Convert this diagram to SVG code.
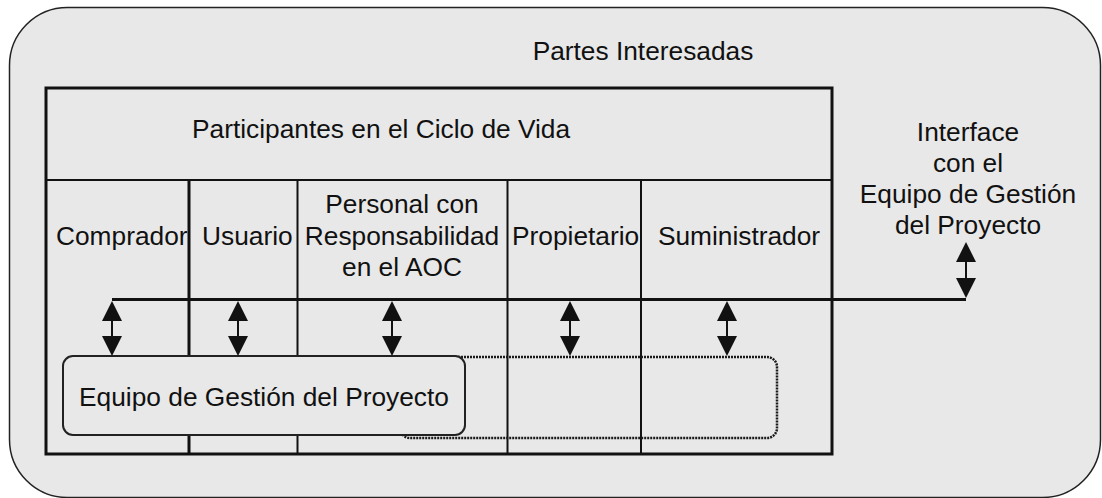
<svg xmlns="http://www.w3.org/2000/svg" width="1102" height="498" viewBox="0 0 1102 498">
  <style>
    .txt { font-family: "Liberation Sans", Arial, sans-serif; font-size: 26.3px; fill: #111; }
    .mid { text-anchor: middle; }
    .thick { stroke: #111; stroke-width: 3; fill: none; }
    .thin { stroke: #111; stroke-width: 2; fill: none; }
    .arrow { stroke: #111; stroke-width: 2; fill: none; marker-start: url(#head); marker-end: url(#head); }
  </style>
  <defs>
    <marker id="head" viewBox="0 0 20 20" refX="16" refY="10" markerWidth="20" markerHeight="20" markerUnits="userSpaceOnUse" orient="auto-start-reverse">
      <path d="M0,0 L20,10 L0,20 z" fill="#111"/>
    </marker>
  </defs>

  <rect width="1102" height="498" fill="#ffffff"/>

  <g id="partes-interesadas">
    <rect x="9.5" y="7.5" width="1091" height="490" rx="58" ry="58" fill="#e8e8e8" stroke="#222" stroke-width="1.5"/>
    <text class="txt mid" x="643" y="60">Partes Interesadas</text>
  </g>

  <g id="ciclo-de-vida">
    <rect x="46" y="88" width="786" height="366" class="thick"/>
    <line x1="46" y1="180" x2="832" y2="180" class="thin"/>
    <text class="txt" x="192" y="138">Participantes en el Ciclo de Vida</text>
  </g>

  <g id="columnas">
    <line x1="189" y1="180" x2="189" y2="454" class="thick"/>
    <line x1="297.5" y1="180" x2="297.5" y2="454" class="thin"/>
    <line x1="507.5" y1="180" x2="507.5" y2="454" class="thin"/>
    <line x1="641" y1="180" x2="641" y2="454" class="thin"/>
  </g>

  <g id="comprador"><text class="txt" x="56" y="245">Comprador</text></g>
  <g id="usuario"><text class="txt" x="202" y="245">Usuario</text></g>
  <g id="personal-aoc">
    <text class="txt mid" x="402" y="213">Personal con</text>
    <text class="txt mid" x="402" y="245">Responsabilidad</text>
    <text class="txt mid" x="402" y="276">en el AOC</text>
  </g>
  <g id="propietario"><text class="txt" x="512" y="245">Propietario</text></g>
  <g id="suministrador"><text class="txt mid" x="739" y="245">Suministrador</text></g>

  <g id="interface">
    <text class="txt mid" x="968" y="141">Interface</text>
    <text class="txt mid" x="968" y="172">con el</text>
    <text class="txt mid" x="968" y="203">Equipo de Gestión</text>
    <text class="txt mid" x="968" y="234">del Proyecto</text>
  </g>

  <g id="equipo-extendido">
    <rect x="400" y="357" width="377" height="81" rx="10" ry="10" fill="none" stroke="#1a1a1a" stroke-width="2.5" stroke-dasharray="2 1"/>
  </g>

  <g id="equipo-gestion">
    <rect x="63" y="356" width="402" height="79" rx="10" ry="10" fill="#e8e8e8" stroke="#222" stroke-width="2"/>
    <text class="txt mid" x="264" y="406">Equipo de Gestión del Proyecto</text>
  </g>

  <g id="connectors">
    <polyline points="112,299.5 966,299.5" class="thick"/>
    <line x1="112" y1="305" x2="112" y2="352" class="arrow"/>
    <line x1="238" y1="305" x2="238" y2="352" class="arrow"/>
    <line x1="392" y1="305" x2="392" y2="352" class="arrow"/>
    <line x1="570" y1="305" x2="570" y2="352" class="arrow"/>
    <line x1="727" y1="305" x2="727" y2="352" class="arrow"/>
    <line x1="966" y1="246" x2="966" y2="294" class="arrow"/>
  </g>
</svg>
